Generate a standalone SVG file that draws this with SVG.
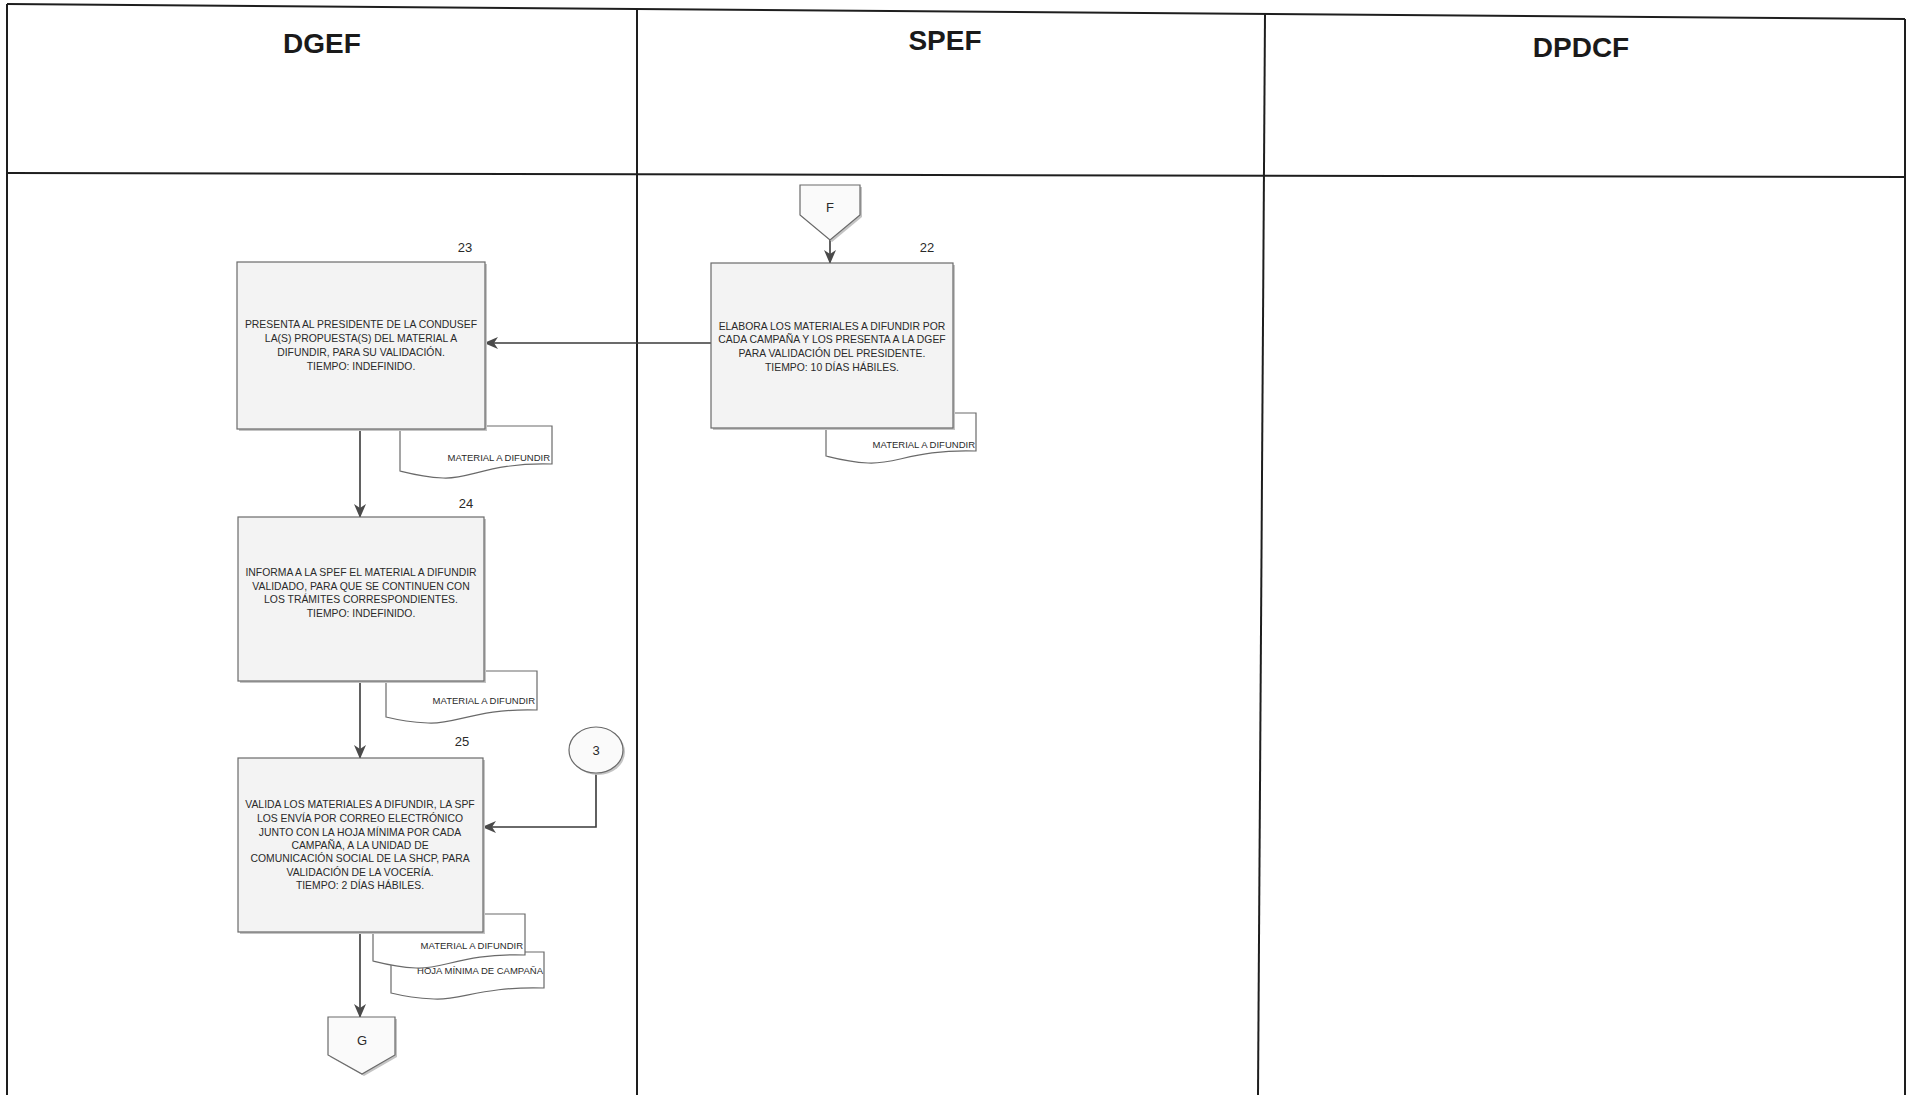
<svg xmlns="http://www.w3.org/2000/svg" width="1908" height="1095" viewBox="0 0 1908 1095">
  <defs>
    <style>
      .lane { stroke: #1e1e1e; stroke-width: 2; fill: none; }
      .hdr { font-family: "Liberation Sans", Arial, sans-serif; font-weight: bold; font-size: 28px; fill: #1a1a1a; text-anchor: middle; }
      .box { fill: #f3f3f3; stroke: #6a6a6a; stroke-width: 1.2; }
      .shadow { fill: #c4c4c4; stroke: none; }
      .txt { font-family: "Liberation Sans", Arial, sans-serif; font-size: 10.4px; fill: #2a2a2a; text-anchor: middle; }
      .num { font-family: "Liberation Sans", Arial, sans-serif; font-size: 13px; fill: #2a2a2a; text-anchor: middle; }
      .doc { fill: #ffffff; stroke: #6a6a6a; stroke-width: 1.2; }
      .doclbl { font-family: "Liberation Sans", Arial, sans-serif; font-size: 9.5px; fill: #2a2a2a; text-anchor: end; }
      .conn { stroke: #3a3a3a; stroke-width: 1.6; fill: none; }
      .off { fill: #fafafa; stroke: #6a6a6a; stroke-width: 1.2; }
    </style>
    <marker id="arr" markerUnits="userSpaceOnUse" markerWidth="14" markerHeight="12" viewBox="0 0 14 12" refX="13" refY="6" orient="auto">
      <path d="M0,0 L14,6 L0,12 L4,6 z" fill="#4a4a4a"/>
    </marker>
  </defs>

  <rect x="0" y="0" width="1908" height="1095" fill="#ffffff"/>

  <g id="lanes">
    <line class="lane" x1="7" y1="4" x2="1905" y2="19"/>
    <line class="lane" x1="7" y1="173" x2="1905" y2="177"/>
    <line class="lane" x1="7" y1="4" x2="7" y2="1095" stroke-width="3"/>
    <line class="lane" x1="637" y1="9" x2="637" y2="1095" stroke-width="1.6"/>
    <line class="lane" x1="1265" y1="14" x2="1258" y2="1095" stroke-width="1.6"/>
    <line class="lane" x1="1905" y1="19" x2="1905" y2="1095" stroke-width="1.6"/>
    <text class="hdr" x="322" y="53">DGEF</text>
    <text class="hdr" x="945" y="50">SPEF</text>
    <text class="hdr" x="1581" y="57">DPDCF</text>
  </g>

  <g id="connectors">
    <path class="conn" d="M830,240 L830,263" marker-end="url(#arr)"/>
    <path class="conn" d="M711,343 L485,343" marker-end="url(#arr)"/>
    <path class="conn" d="M360,429 L360,517" marker-end="url(#arr)"/>
    <path class="conn" d="M360,681 L360,758" marker-end="url(#arr)"/>
    <path class="conn" d="M596,773 L596,827 L483,827" stroke-width="2" marker-end="url(#arr)"/>
    <path class="conn" d="M360,932 L360,1017" marker-end="url(#arr)"/>
  </g>

  <g id="node-F">
    <path class="shadow" d="M802,187 H862 V217 L832,242 L802,217 Z"/>
    <path class="off" d="M800,185 H860 V215 L830,240 L800,215 Z"/>
    <text class="num" x="830" y="212">F</text>
  </g>

  <g id="node-22">
    <path class="doc" d="M826,413 H976 V451 C916,449 894,465 868,463 C848,462 834,458 826,456 Z"/>
    <text class="doclbl" x="975" y="448">MATERIAL A DIFUNDIR</text>
    <rect class="shadow" x="713" y="265" width="242" height="165"/>
    <rect class="box" x="711" y="263" width="242" height="165"/>
    <text class="num" x="927" y="252">22</text>
    <text class="txt" x="832" y="330">ELABORA LOS MATERIALES A DIFUNDIR POR</text>
    <text class="txt" x="832" y="343">CADA CAMPAÑA Y LOS PRESENTA A LA DGEF</text>
    <text class="txt" x="832" y="357">PARA VALIDACIÓN DEL PRESIDENTE.</text>
    <text class="txt" x="832" y="371">TIEMPO: 10 DÍAS HÁBILES.</text>
  </g>

  <g id="node-23">
    <path class="doc" d="M400,426 H552 V464 C491,462 468,480 443,478 C423,477 408,473 400,471 Z"/>
    <text class="doclbl" x="550" y="461">MATERIAL A DIFUNDIR</text>
    <rect class="shadow" x="239" y="264" width="248" height="167"/>
    <rect class="box" x="237" y="262" width="248" height="167"/>
    <text class="num" x="465" y="252">23</text>
    <text class="txt" x="361" y="328">PRESENTA AL PRESIDENTE  DE LA CONDUSEF</text>
    <text class="txt" x="361" y="342">LA(S) PROPUESTA(S) DEL MATERIAL A</text>
    <text class="txt" x="361" y="356">DIFUNDIR, PARA SU VALIDACIÓN.</text>
    <text class="txt" x="361" y="370">TIEMPO: INDEFINIDO.</text>
  </g>

  <g id="node-24">
    <path class="doc" d="M386,671 H537 V710 C477,708 454,725 428,723 C409,722 394,719 386,717 Z"/>
    <text class="doclbl" x="535" y="704">MATERIAL A DIFUNDIR</text>
    <rect class="shadow" x="240" y="519" width="246" height="164"/>
    <rect class="box" x="238" y="517" width="246" height="164"/>
    <text class="num" x="466" y="508">24</text>
    <text class="txt" x="361" y="576">INFORMA A LA SPEF EL MATERIAL A DIFUNDIR</text>
    <text class="txt" x="361" y="590">VALIDADO, PARA QUE SE CONTINUEN CON</text>
    <text class="txt" x="361" y="603">LOS TRÁMITES CORRESPONDIENTES.</text>
    <text class="txt" x="361" y="617">TIEMPO: INDEFINIDO.</text>
  </g>

  <g id="node-3">
    <ellipse class="shadow" cx="598" cy="752" rx="27" ry="23"/>
    <ellipse class="off" cx="596" cy="750" rx="27" ry="23"/>
    <text class="num" x="596" y="755">3</text>
  </g>

  <g id="node-25">
    <path class="doc" d="M391,952 H544 V988 C483,986 459,1001 434,999 C414,998 399,995 391,993 Z"/>
    <text class="doclbl" x="543" y="974">HOJA  MÍNIMA DE CAMPAÑA</text>
    <path class="doc" d="M373,914 H525 V955 C464,953 441,970 416,968 C396,967 381,963 373,961 Z"/>
    <text class="doclbl" x="523" y="949">MATERIAL A DIFUNDIR</text>
    <rect class="shadow" x="240" y="760" width="245" height="174"/>
    <rect class="box" x="238" y="758" width="245" height="174"/>
    <text class="num" x="462" y="746">25</text>
    <text class="txt" x="360" y="808">VALIDA LOS MATERIALES A DIFUNDIR, LA SPF</text>
    <text class="txt" x="360" y="822">LOS ENVÍA POR CORREO ELECTRÓNICO</text>
    <text class="txt" x="360" y="836">JUNTO CON LA HOJA MÍNIMA POR CADA</text>
    <text class="txt" x="360" y="849">CAMPAÑA, A LA UNIDAD DE</text>
    <text class="txt" x="360" y="862">COMUNICACIÓN SOCIAL DE LA SHCP, PARA</text>
    <text class="txt" x="360" y="876">VALIDACIÓN DE LA VOCERÍA.</text>
    <text class="txt" x="360" y="889">TIEMPO: 2 DÍAS HÁBILES.</text>
  </g>

  <g id="node-G">
    <path class="shadow" d="M330,1019 H397 V1057 L364,1076 L330,1057 Z"/>
    <path class="off" d="M328,1017 H395 V1055 L362,1074 L328,1055 Z"/>
    <text class="num" x="362" y="1045">G</text>
  </g>
</svg>
